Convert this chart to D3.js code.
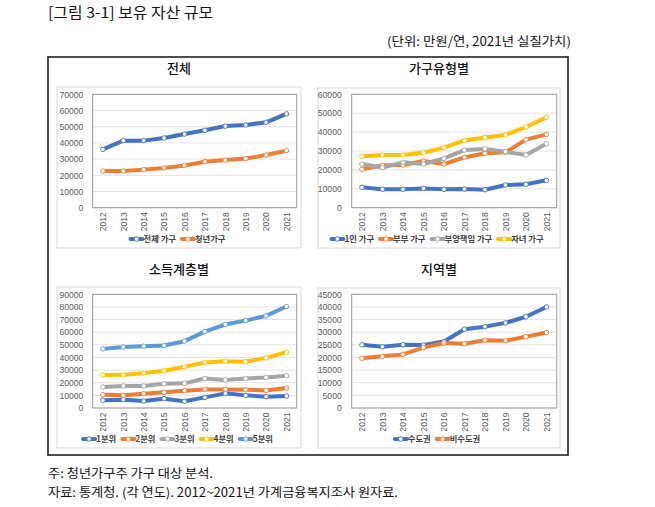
<!DOCTYPE html>
<html><head><meta charset="utf-8">
<script src="https://cdn.jsdelivr.net/npm/d3@7"></script>
<style>
html,body{margin:0;padding:0;background:#fff;}
svg{display:block;}
</style></head>
<body>
<svg id="c" width="655" height="507"></svg>
<script>
const years = ["2012","2013","2014","2015","2016","2017","2018","2019","2020","2021"];

// 전체
const totalNames = ["전체 가구","청년가구"];
const totalAll   = [36000,41400,41400,43000,45500,47800,50400,51100,52700,57900];
const totalYouth = [22600,22600,23500,24500,26100,28400,29400,30300,32500,35200];
const totalTicks = [0,10000,20000,30000,40000,50000,60000,70000];

// 가구유형별
const typeNames = ["1인 가구","부부 가구","부양책임 가구","자녀 가구"];
const typeSingle  = [10800,9700,9700,10200,9700,9900,9500,12000,12400,14500];
const typeCouple  = [20300,22400,22600,24700,23100,26600,28800,29300,36000,38800];
const typeSupport = [23100,21200,24000,23100,26100,30500,31100,29600,27900,33900];
const typeChild   = [27200,27900,27900,29100,31800,35600,37100,38500,42700,47800];
const typeTicks = [0,10000,20000,30000,40000,50000,60000];

// 소득계층별
const incNames = ["1분위","2분위","3분위","4분위","5분위"];
const inc1 = [6100,6600,5500,7400,5300,8400,11600,10000,8900,9500];
const inc2 = [10500,10000,11300,12400,13700,14700,14700,14500,13900,15800];
const inc3 = [16600,17400,17400,19200,19500,23400,22100,23400,24200,25500];
const inc4 = [26100,26300,27600,29500,32600,36100,37100,36600,39700,44200];
const inc5 = [46800,48200,48900,49500,52900,60500,66100,69200,72900,80300];
const incTicks = [0,10000,20000,30000,40000,50000,60000,70000,80000,90000];

// 지역별
const regNames = ["수도권","비수도권"];
const regCapital = [25000,24200,25000,24900,26300,31200,32200,33700,36100,40000];
const regOther   = [19700,20500,21200,23900,25700,25400,26800,26600,28200,29900];
const regTicks = [0,5000,10000,15000,20000,25000,30000,35000,40000,45000];

const colors = ["#4472C4","#ED7D31","#A5A5A5","#FFC000","#5B9BD5"];

const svg = d3.select("#c");
const KFONT = "'Noto Sans CJK KR','Liberation Sans',sans-serif";
const NFONT = "'Liberation Sans','Noto Sans CJK KR',sans-serif";

// header texts
svg.append("text").attr("x",48).attr("y",18).attr("font-family",KFONT).attr("font-size",14.5)
  .attr("fill","#111").attr("textLength",165).attr("lengthAdjust","spacingAndGlyphs")
  .text("[그림 3-1] 보유 자산 규모");
svg.append("text").attr("x",571).attr("y",46).attr("text-anchor","end").attr("font-family",KFONT)
  .attr("font-size",12.5).attr("fill","#111").attr("textLength",184).attr("lengthAdjust","spacingAndGlyphs")
  .text("(단위: 만원/연, 2021년 실질가치)");

// outer box
svg.append("rect").attr("x",48).attr("y",57).attr("width",520).attr("height",398)
  .attr("fill","none").attr("stroke","#222").attr("stroke-width",1.6);

// footnotes
svg.append("text").attr("x",48).attr("y",478).attr("font-family",KFONT).attr("font-size",12.5)
  .attr("fill","#111").attr("textLength",165).attr("lengthAdjust","spacingAndGlyphs")
  .text("주: 청년가구주 가구 대상 분석.");
svg.append("text").attr("x",48).attr("y",497).attr("font-family",KFONT).attr("font-size",12.5)
  .attr("fill","#111").attr("textLength",350).attr("lengthAdjust","spacingAndGlyphs")
  .text("자료: 통계청. (각 연도). 2012~2021년 가계금융복지조사 원자료.");

function panel(cfg){
  const g = svg.append("g");
  // chart area
  g.append("rect").attr("x",cfg.ca[0]).attr("y",cfg.ca[1]).attr("width",cfg.ca[2]-cfg.ca[0]).attr("height",cfg.ca[3]-cfg.ca[1])
    .attr("fill","#fff").attr("stroke","#d9d9d9").attr("stroke-width",1);
  const x = d3.scalePoint().domain(years).range([cfg.pl, cfg.pr]).padding(0.5);
  const y = d3.scaleLinear().domain([0, d3.max(cfg.ticks)]).range([cfg.pb, cfg.pt]);
  // gridlines
  g.append("g").selectAll("line").data(cfg.ticks).join("line")
    .attr("x1",cfg.pl).attr("x2",cfg.pr).attr("y1",d=>y(d)).attr("y2",d=>y(d))
    .attr("stroke","#e3e3e3").attr("stroke-width",1);
  // plot border
  g.append("rect").attr("x",cfg.pl).attr("y",cfg.pt).attr("width",cfg.pr-cfg.pl).attr("height",cfg.pb-cfg.pt)
    .attr("fill","none").attr("stroke","#9a9a9a").attr("stroke-width",1);
  // y axis
  const ya = d3.axisLeft(y).tickValues(cfg.ticks).tickSize(0).tickPadding(cfg.tp).tickFormat(d3.format("d"));
  const yg = g.append("g").attr("transform",`translate(${cfg.pl},0)`).call(ya);
  yg.select(".domain").remove();
  yg.selectAll("text").attr("font-family",NFONT).attr("font-size",8.6).attr("fill","#595959");
  // x axis
  const xa = d3.axisBottom(x).tickSize(0).tickPadding(0);
  const xg = g.append("g").attr("transform",`translate(0,${cfg.pb})`).call(xa);
  xg.select(".domain").remove();
  xg.selectAll("text").attr("font-family",NFONT).attr("font-size",8.6).attr("fill","#595959")
    .attr("transform","rotate(-90)").attr("text-anchor","end").attr("dx","-4.5").attr("dy","0.33em").attr("y",0).attr("x",0);
  // lines
  const line = d3.line().x((d,i)=>x(years[i])).y(d=>y(d));
  cfg.series.forEach((s,k)=>{
    g.append("path").datum(s).attr("d",line).attr("fill","none").attr("stroke",colors[k])
      .attr("stroke-width",4).attr("stroke-linejoin","round").attr("stroke-linecap","round");
    g.append("g").selectAll("circle").data(s).join("circle")
      .attr("cx",(d,i)=>x(years[i])).attr("cy",d=>y(d)).attr("r",2.3)
      .attr("fill","#fff").attr("stroke",colors[k]).attr("stroke-width",0.9);
  });
  // title
  g.append("text").attr("x",cfg.tx).attr("y",cfg.ty).attr("text-anchor","middle")
    .attr("font-family",KFONT).attr("font-size",13).attr("font-weight",500).attr("fill","#111").text(cfg.title);
  // legend
  const lg = g.append("g");
  const LFS = 8.3;
  let widths = cfg.names.map(n=>{
    const t = lg.append("text").attr("font-family",KFONT).attr("font-size",LFS).attr("font-weight",700).text(n);
    const w = t.node().getComputedTextLength(); t.remove(); return w;
  });
  const mk = 12, gapT = 1, gapI = 6;
  const total = d3.sum(widths) + cfg.names.length*(mk+gapT) + (cfg.names.length-1)*gapI;
  let cx = cfg.lx - total/2;
  cfg.names.forEach((n,k)=>{
    lg.append("line").attr("x1",cx).attr("x2",cx+mk).attr("y1",cfg.ly).attr("y2",cfg.ly)
      .attr("stroke",colors[k]).attr("stroke-width",4).attr("stroke-linecap","round");
    lg.append("circle").attr("cx",cx+mk/2).attr("cy",cfg.ly).attr("r",2.3).attr("fill","#fff").attr("stroke",colors[k]).attr("stroke-width",0.9);
    lg.append("text").attr("x",cx+mk+gapT).attr("y",cfg.ly).attr("dy","0.35em")
      .attr("font-family",KFONT).attr("font-size",LFS).attr("font-weight",700).attr("fill","#404040").text(n);
    cx += mk + gapT + widths[k] + gapI;
  });
}

panel({title:"전체", names:totalNames, series:[totalAll,totalYouth], ticks:totalTicks,
  ca:[57,87,301,248], pl:92.7, pr:296.7, pt:94.3, pb:207.7, tp:9.4, tx:179, ty:73, lx:178, ly:239});
panel({title:"가구유형별", names:typeNames, series:[typeSingle,typeCouple,typeSupport,typeChild], ticks:typeTicks,
  ca:[318,88,560,248], pl:351.7, pr:556.7, pt:94.3, pb:207.7, tp:10, tx:439, ty:73, lx:437.5, ly:239});
panel({title:"소득계층별", names:incNames, series:[inc1,inc2,inc3,inc4,inc5], ticks:incTicks,
  ca:[57,287,301,448], pl:92.7, pr:296.7, pt:294.3, pb:408, tp:9.4, tx:179, ty:274, lx:178, ly:439});
panel({title:"지역별", names:regNames, series:[regCapital,regOther], ticks:regTicks,
  ca:[318,288,560,448], pl:351.7, pr:556.7, pt:294.3, pb:408, tp:10, tx:439, ty:274, lx:437.5, ly:439});
</script>
</body></html>
